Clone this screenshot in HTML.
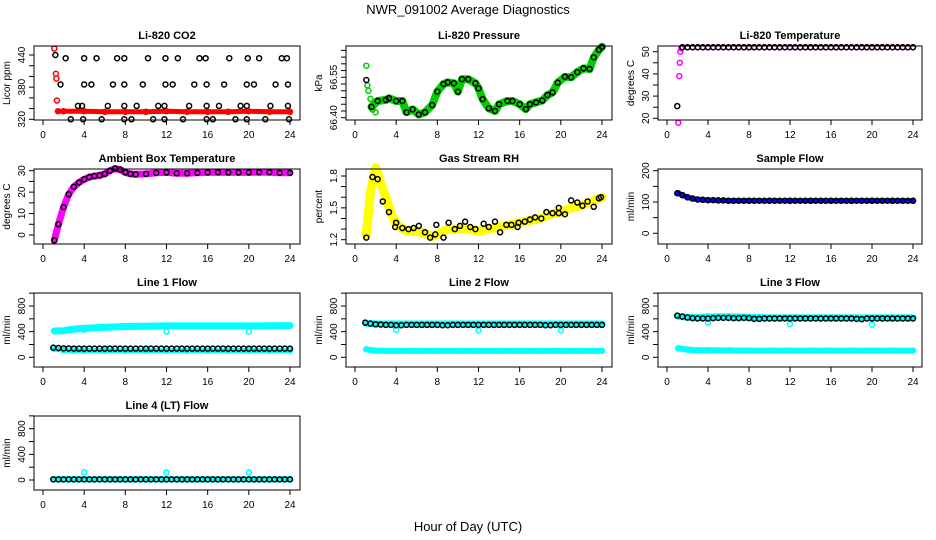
<!DOCTYPE html>
<html><head><meta charset="utf-8"><style>
body{margin:0;background:#fff}
svg{display:block;font-family:"Liberation Sans",sans-serif}
</style></head><body>
<svg id="c" width="936" height="540" viewBox="0 0 936 540">
<text x="468" y="14" text-anchor="middle" font-size="13">NWR_091002  Average Diagnostics</text>
<text x="468" y="531" text-anchor="middle" font-size="13">Hour of Day (UTC)</text>
</svg>
<script>
// ---------- data ----------
const xTicks=[0,4,8,12,16,20,24];
const t05=[1,1.5,2,2.5,3,3.5,4,4.5,5,5.5,
6,6.5,7,7.5,8,8.5,9,9.5,10,10.5,
11,11.5,12,12.5,13,13.5,14,14.5,15,15.5,
16,16.5,17,17.5,18,18.5,19,19.5,20,20.5,
21,21.5,22,22.5,23,23.5,24];
// CO2
const co2KT=[1.2,2.2,4.0,5.2,7.2,7.9,10.2,11.9,13.1,15.2,15.8,18.1,19.9,21.0,23.2,23.7,1.7,4.0,4.7,6.8,7.9,9.7,11.9,12.6,14.7,15.9,17.6,19.8,20.5,22.6,23.8,3.4,3.8,6.3,7.9,9.1,11.2,11.8,14.2,15.9,17.1,19.2,19.8,22.1,23.8,2.7,3.9,5.7,7.9,8.6,10.7,11.8,13.6,15.9,16.5,18.7,19.8,21.6,23.9];
const co2KV=[440,434,434,434,434,434,434,434,434,434,434,434,434,434,434,434,385,385,385,385,385,385,385,385,385,385,385,385,385,385,385,345,345,345,345,345,345,345,345,345,345,345,345,345,345,320,320,320,320,320,320,320,320,320,320,320,320,320,320];
const co2ET=[1.1,1.25,1.3,1.35];
const co2EV=[452,405,396,355];
const co2RT=[1.45,2,4,6,8,10,12,14,16,18,20,22,24];
const co2RV=[335,335,335,334,334,334,335,334,334,334,335,334,334];
// Pressure
const prT=[1.6,2.2,3,3.3,4,4.6,5,5.6,6.2,6.8,7.5,8,8.6,9,9.6,10,10.4,11,11.7,12,12.4,13,13.6,14,14.8,15.3,16,16.6,17,17.6,18.2,18.7,19.2,19.7,20.4,21,21.6,22.2,22.8,23.2,23.7,24];
const prV=[66.44,66.462,66.466,66.472,66.462,66.462,66.42,66.431,66.412,66.42,66.447,66.497,66.525,66.531,66.528,66.497,66.543,66.543,66.528,66.509,66.469,66.435,66.425,66.45,66.462,66.462,66.45,66.432,66.45,66.457,66.464,66.484,66.494,66.53,66.552,66.55,66.569,66.583,66.581,66.624,66.652,66.663];
const prKT=[1.1];
const prKV=[66.54];
const prGT=[1.1,1.2,1.3,1.5,1.7,2];
const prGV=[66.593,66.52,66.5,66.47,66.43,66.42];
// Temperature
const tpK=[25.5,52,52,52,52,52,52,52,52,52,
52,52,52,52,52,52,52,52,52,52,
52,52,52,52,52,52,52,52,52,52,
52,52,52,52,52,52,52,52,52,52,
52,52,52,52,52,52,52];
const tpMT=[1.1,1.2,1.25,1.3,1.4];
const tpMV=[18,39,45,50,51.5];
// Ambient box
const abT=[1.1,1.5,2,2.5,3,3.5,4,4.5,5,5.5,6,6.5,7,7.5,8,8.5,9,10,11,12,13,14,15,16,17,18,19,20,21,22,23,24];
const abV=[-2.5,5,13,19,22.5,24.5,26,27,27.5,27.8,28.5,30,31,30.5,29.2,28.5,28.3,28.5,29,29.2,28.8,28.8,29,29.2,29.3,29.2,29.2,29.2,29.3,29.3,29,29];
// RH
const rhYT=[1.1,1.3,1.5,1.8,2,2.3,2.6,3,3.5,4,5,6,7,7.5,8,9,10,11,12,13,14,15,16,17,18,19,20,21,22,23,24];
const rhYV=[1.25,1.45,1.65,1.78,1.88,1.8,1.7,1.6,1.45,1.35,1.28,1.28,1.25,1.23,1.25,1.3,1.3,1.3,1.28,1.3,1.32,1.34,1.36,1.38,1.4,1.44,1.46,1.5,1.52,1.56,1.6];
const rhKT=[1.1,1.7,2.2,2.7,3.3,3.9,4,4.6,5.2,5.7,6.2,6.8,7.3,7.8,7.9,8.6,9.1,9.7,10.2,10.7,11.2,11.7,12.5,13,13.6,14.1,14.7,15.2,15.8,15.9,16.5,17,17.5,18.1,18.6,19.2,19.8,19.8,20.4,21,21.6,22.1,22.6,23.2,23.7,23.9];
const rhKV=[1.22,1.79,1.77,1.56,1.46,1.32,1.36,1.31,1.3,1.31,1.33,1.27,1.22,1.25,1.34,1.22,1.36,1.3,1.33,1.37,1.32,1.3,1.35,1.32,1.37,1.27,1.34,1.34,1.32,1.36,1.37,1.39,1.41,1.4,1.46,1.45,1.5,1.45,1.44,1.57,1.55,1.52,1.56,1.51,1.59,1.6];
// Sample flow
const sfT=[1.1,1.5,2,2.5,3,4,5,6,8,10,12,14,16,18,20,22,24];
const sfV=[128,122,115,111,108,106,105,104,104,104,104,104,104,104,104,104,104];
const sfK=[128,122,115,111,108,107,106,106,105,105,
104,104,104,104,104,104,104,104,104,104,
104,104,104,104,104,104,104,104,104,104,
104,104,104,104,104,104,104,104,104,104,
104,104,104,104,104,104,104];
// Line flows
const lfT=[1.1,2,3,4,6,8,10,12,14,16,18,20,22,24];
const l1Up=[410,415,440,450,470,480,485,490,490,490,490,490,492,495];
const l1Lo=[130,110,105,105,105,105,105,105,105,105,105,105,105,105];
const l2Up=[530,520,520,520,520,520,520,520,520,520,520,520,520,520];
const l2Lo=[125,105,100,100,100,100,100,100,100,100,100,100,100,100];
const l3Up=[640,625,620,630,630,625,615,615,615,615,615,615,615,615];
const l3Lo=[140,120,110,110,108,105,105,105,105,105,105,105,105,105];
const l4C=[12,10,10,10,10,10,10,10,10,10,10,10,10,10];
const l1K=[150,145,140,138,136,135,135,135,135,135,
135,135,135,135,135,135,135,135,135,135,
135,135,135,135,135,135,135,135,135,135,
135,135,135,135,135,135,135,135,135,135,
135,135,135,135,135,135,135];
const l2K=[540,525,515,510,505,505,500,500,505,505,
505,505,505,505,505,500,500,505,505,505,
505,505,505,505,505,505,505,505,505,505,
505,505,505,505,505,500,500,505,505,505,
505,505,505,505,505,505,505];
const l3K=[650,635,620,610,605,605,605,610,615,615,
615,610,610,615,610,600,600,605,605,605,
605,605,605,605,605,605,605,605,605,605,
605,605,605,605,605,600,595,605,605,605,
605,605,605,605,605,605,605];
const l4K=[10,10,10,10,10,10,10,10,10,10,
10,10,10,10,10,10,10,10,10,10,
10,10,10,10,10,10,10,10,10,10,
10,10,10,10,10,10,10,10,10,10,
10,10,10,10,10,10,10];
const outT=[4,12,20];
const l1Out=[430,400,400];
const l2Out=[430,420,420];
const l3Out=[540,520,510];
const l4Out=[120,120,120];

// ---------- layout ----------
const cols=[{l:34,r:300,x0:43,x24:290},{l:346,r:612,x0:355,x24:602},{l:658,r:922,x0:667,x24:913}];
const rows=[{t:46,b:120},{t:169,b:244},{t:293,b:367},{t:416,b:490}];
const NS='http://www.w3.org/2000/svg';
const svg=document.getElementById('c');
function mk(tag,attrs,parent){const e=document.createElementNS(NS,tag);for(const k in attrs)e.setAttribute(k,attrs[k]);(parent||svg).appendChild(e);return e;}

function panel(ci,ri,o){
  const c=cols[ci],r=rows[ri];
  const g=mk('g',{});
  
  
  const X=t=>c.x0+(t/24)*(c.x24-c.x0);
  const Y=v=>o.y1+(v-o.v1)*(o.y2-o.y1)/(o.v2-o.v1);
  const title=mk('text',{x:(c.l+c.r)/2,y:r.t-7,'text-anchor':'middle','font-size':11,'font-weight':'bold'},g);
  title.textContent=o.title;
  
  
  o.series.forEach(s=>{
    const sg=mk('g',{},g);
    
    
    if(s.band){
      const pts=s.t.map((t,i)=>X(t).toFixed(1)+','+Y(s.v[i]).toFixed(1)).join(' ');
      mk('polyline',{points:pts,fill:'none',stroke:s.color,'stroke-width':s.band,'stroke-linejoin':'round','stroke-linecap':'round'},sg);
    }
    s.t.forEach((t,i)=>{
      const cc=mk('circle',{cx:X(t),cy:Y(s.v[i]),r:2.5,fill:'none',stroke:s.color,'stroke-width':1.5},sg);
      
      
    });
  });
  const box=mk('rect',{x:c.l,y:r.t,width:c.r-c.l,height:r.b-r.t,fill:'none',stroke:'#000','stroke-width':1},g);
  
  
  const xa=mk('g',{},g);
  
  
  mk('line',{x1:X(0),x2:X(24),y1:r.b,y2:r.b,stroke:'#000'},xa);
  xTicks.forEach(t=>{
    mk('line',{x1:X(t),x2:X(t),y1:r.b,y2:r.b+5,stroke:'#000'},xa);
    const tx=mk('text',{x:X(t),y:r.b+18,'text-anchor':'middle','font-size':10},xa);
    tx.textContent=t;
  });
  const ya=mk('g',{},g);
  
  
  const yt=o.ticks;
  mk('line',{x1:c.l,x2:c.l,y1:Y(yt[0]),y2:Y(yt[yt.length-1]),stroke:'#000'},ya);
  yt.forEach(v=>mk('line',{x1:c.l-5,x2:c.l,y1:Y(v),y2:Y(v),stroke:'#000'},ya));
  o.labels.forEach((lab,i)=>{
    const y=Y(o.labelVals[i]);
    const tx=mk('text',{x:c.l-9,y:y,'text-anchor':'middle','font-size':10,transform:`rotate(-90 ${c.l-9} ${y})`},ya);
    tx.textContent=lab;
  });
  const yl=(r.t+r.b)/2, xl=c.l-24;
  const yt2=mk('text',{x:xl,y:yl,'text-anchor':'middle','font-size':10,transform:`rotate(-90 ${xl} ${yl})`},g);
  yt2.textContent=o.ylab;
  
  
}

const flowTicks=[0,200,400,600,800,1000];
panel(0,0,{name:'co2',title:'Li-820 CO2',ylab:'Licor ppm',v1:320,y1:119.3,v2:440,y2:55,ticks:[320,340,360,380,400,420,440],labels:['320','380','440'],labelVals:[320,380,440],
 series:[{name:'co2-black',t:co2KT,v:co2KV,color:'#000'},{name:'co2-red',t:co2RT,v:co2RV,color:'#f00',band:5},{name:'co2-red-early',t:co2ET,v:co2EV,color:'#f00'}]});
panel(1,0,{name:'pressure',title:'Li-820 Pressure',ylab:'kPa',v1:66.40,y1:117.7,v2:66.55,y2:77.3,ticks:[66.40,66.425,66.45,66.475,66.5,66.525,66.55,66.575,66.6,66.625,66.65],labels:['66.40','66.55'],labelVals:[66.40,66.55],
 series:[{name:'pressure-green',t:prT,v:prV,color:'#00d000',band:8},{name:'pressure-green-early',t:prGT,v:prGV,color:'#00d000'},{name:'pressure-black',t:prT,v:prV,color:'#000'},{name:'pressure-black-early',t:prKT,v:prKV,color:'#000'}]});
panel(2,0,{name:'temperature',title:'Li-820 Temperature',ylab:'degrees C',v1:20,y1:118.3,v2:50,y2:51.7,ticks:[20,25,30,35,40,45,50],labels:['20','30','40','50'],labelVals:[20,30,40,50],
 series:[{name:'temp-magenta-early',t:tpMT,v:tpMV,color:'#f0f'},{name:'temp-magenta',t:t05.slice(1),v:tpK.slice(1),color:'#f0f'},{name:'temp-black',t:t05,v:tpK,color:'#000'}]});
panel(0,1,{name:'ambient',title:'Ambient Box Temperature',ylab:'degrees C',v1:0,y1:235,v2:30,y2:170.7,ticks:[0,5,10,15,20,25,30],labels:['0','10','20','30'],labelVals:[0,10,20,30],
 series:[{name:'ambient-magenta',t:abT,v:abV,color:'#f0f',band:7},{name:'ambient-black',t:abT,v:abV,color:'#000'}]});
panel(1,1,{name:'rh',title:'Gas Stream RH',ylab:'percent',v1:1.2,y1:239.7,v2:1.8,y2:176,ticks:[1.2,1.3,1.4,1.5,1.6,1.7,1.8],labels:['1.2','1.5','1.8'],labelVals:[1.2,1.5,1.8],
 series:[{name:'rh-yellow',t:rhYT,v:rhYV,color:'#ffff00',band:9},{name:'rh-black',t:rhKT,v:rhKV,color:'#000'}]});
panel(2,1,{name:'sample-flow',title:'Sample Flow',ylab:'ml/min',v1:0,y1:233.3,v2:200,y2:170.7,ticks:[0,50,100,150,200],labels:['0','100','200'],labelVals:[0,100,200],
 series:[{name:'sample-blue',t:sfT,v:sfV,color:'#0000ff',band:5},{name:'sample-black',t:t05,v:sfK,color:'#000'}]});
panel(0,2,{name:'line1',title:'Line 1 Flow',ylab:'ml/min',v1:0,y1:357.3,v2:800,y2:306,ticks:flowTicks,labels:['0','400','800'],labelVals:[0,400,800],
 series:[{name:'line1-cyan-upper',t:lfT,v:l1Up,color:'#00ffff',band:7},{name:'line1-cyan-lower',t:lfT,v:l1Lo,color:'#00ffff',band:5},{name:'line1-cyan-outliers',t:outT,v:l1Out,color:'#00ffff'},{name:'line1-black',t:t05,v:l1K,color:'#000'}]});
panel(1,2,{name:'line2',title:'Line 2 Flow',ylab:'ml/min',v1:0,y1:357.3,v2:800,y2:306,ticks:flowTicks,labels:['0','400','800'],labelVals:[0,400,800],
 series:[{name:'line2-cyan-upper',t:lfT,v:l2Up,color:'#00ffff',band:7},{name:'line2-cyan-lower',t:lfT,v:l2Lo,color:'#00ffff',band:6},{name:'line2-cyan-outliers',t:outT,v:l2Out,color:'#00ffff'},{name:'line2-black',t:t05,v:l2K,color:'#000'}]});
panel(2,2,{name:'line3',title:'Line 3 Flow',ylab:'ml/min',v1:0,y1:357.3,v2:800,y2:306,ticks:flowTicks,labels:['0','400','800'],labelVals:[0,400,800],
 series:[{name:'line3-cyan-upper',t:lfT,v:l3Up,color:'#00ffff',band:7},{name:'line3-cyan-lower',t:lfT,v:l3Lo,color:'#00ffff',band:6},{name:'line3-cyan-outliers',t:outT,v:l3Out,color:'#00ffff'},{name:'line3-black',t:t05,v:l3K,color:'#000'}]});
panel(0,3,{name:'line4',title:'Line 4 (LT) Flow',ylab:'ml/min',v1:0,y1:480,v2:800,y2:428.7,ticks:flowTicks,labels:['0','400','800'],labelVals:[0,400,800],
 series:[{name:'line4-cyan',t:lfT,v:l4C,color:'#00ffff',band:6},{name:'line4-cyan-outliers',t:outT,v:l4Out,color:'#00ffff'},{name:'line4-black',t:t05,v:l4K,color:'#000'}]});
</script>
</body></html>
